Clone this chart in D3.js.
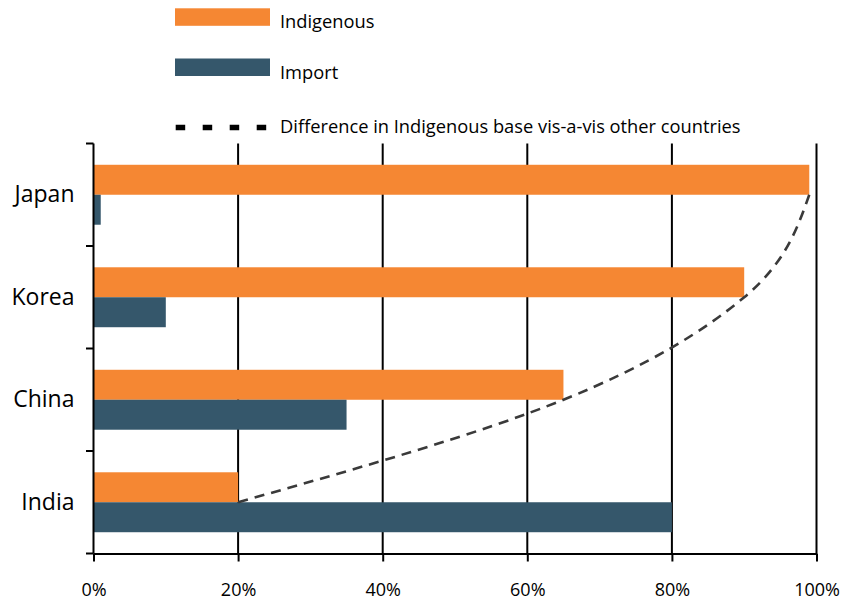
<!DOCTYPE html>
<html>
<head>
<meta charset="utf-8">
<script src="https://cdn.jsdelivr.net/npm/d3@7"></script>
<style>
  html, body { margin: 0; padding: 0; background: #fff; }
  svg { display: block; font-family: "Open Sans", "DejaVu Sans", sans-serif; }
</style>
</head>
<body>
<svg id="chart" width="842" height="603"></svg>
<script>
const categories = ["Japan", "Korea", "China", "India"];
const indigenous = [0.99, 0.90, 0.65, 0.20];
const importShare = [0.01, 0.10, 0.35, 0.80];
const xTicks = [0, 0.2, 0.4, 0.6, 0.8, 1.0];
const seriesNames = ["Indigenous", "Import"];
const lineName = "Difference in Indigenous base vis-a-vis other countries";

const colors = { Indigenous: "#F58733", Import: "#35576B", line: "#3a3a3a" };

const svg = d3.select("#chart");
const plotLeft = 93.5, plotRight = 816.5, plotTop = 143.5, plotBottom = 553.5;

const x = d3.scaleLinear().domain([0, 1]).range([plotLeft, plotRight]);
const y0 = d3.scaleBand().domain(categories).range([plotTop, plotBottom]);
const y1 = d3.scaleBand().domain(seriesNames).range([0, y0.bandwidth()]).paddingInner(0).paddingOuter(0.71);

const rows = categories.map((c, i) => ({ cat: c, Indigenous: indigenous[i], Import: importShare[i] }));

// gridlines
svg.append("g").selectAll("line").data(xTicks.filter(d => d > 0)).join("line")
  .attr("x1", d => x(d)).attr("x2", d => x(d))
  .attr("y1", plotTop).attr("y2", plotBottom)
  .attr("stroke", "#000").attr("stroke-width", 2);

// bars
const g = svg.append("g");
rows.forEach(r => {
  seriesNames.forEach(s => {
    g.append("rect")
      .attr("x", x(0))
      .attr("y", y0(r.cat) + y1(s))
      .attr("width", x(r[s]) - x(0))
      .attr("height", y1.bandwidth())
      .attr("fill", colors[s]);
  });
});

// dashed smooth line through indigenous bar ends
const linePts = rows.map(r => [x(r.Indigenous), y0(r.cat) + y1("Indigenous") + y1.bandwidth()]);
svg.append("path")
  .attr("d", d3.line().curve(d3.curveMonotoneY)(linePts))
  .attr("fill", "none").attr("stroke", colors.line)
  .attr("stroke-width", 2.6).attr("stroke-dasharray", "10,7");

// x axis
const xAxis = svg.append("g").attr("transform", `translate(0,${plotBottom})`)
  .call(d3.axisBottom(x).tickValues(xTicks).tickFormat(d3.format(".0%")).tickSizeInner(8).tickSizeOuter(0).tickPadding(22));
xAxis.select(".domain").attr("stroke", "#000").attr("stroke-width", 2);
xAxis.selectAll(".tick line").attr("stroke", "#000").attr("stroke-width", 2);
xAxis.selectAll(".tick text").attr("font-size", 18).attr("fill", "#000").attr("font-family", "Open Sans");

// y axis line with boundary ticks
svg.append("line").attr("x1", plotLeft).attr("x2", plotLeft).attr("y1", plotTop).attr("y2", plotBottom)
  .attr("stroke", "#000").attr("stroke-width", 2);
const bounds = categories.map(c => y0(c)).concat([plotBottom]);
svg.append("g").selectAll("line").data(bounds).join("line")
  .attr("x1", plotLeft - 7.5).attr("x2", plotLeft).attr("y1", d => d).attr("y2", d => d)
  .attr("stroke", "#000").attr("stroke-width", 2);

const yAxis = svg.append("g").attr("transform", `translate(${plotLeft - 19},0)`)
  .call(d3.axisLeft(y0).tickSize(0).tickPadding(0));
yAxis.select(".domain").remove();
yAxis.selectAll(".tick text").attr("font-size", 23).attr("fill", "#000").attr("font-family", "Open Sans");

// legend
const lg = svg.append("g");
lg.append("rect").attr("x", 175).attr("y", 8.3).attr("width", 95).attr("height", 17.5).attr("fill", colors.Indigenous);
lg.append("rect").attr("x", 175).attr("y", 58.5).attr("width", 95).attr("height", 17.5).attr("fill", colors.Import);
lg.append("line").attr("x1", 175.7).attr("x2", 267).attr("y1", 127.5).attr("y2", 127.5)
  .attr("stroke", "#000").attr("stroke-width", 5.5).attr("stroke-dasharray", "9.5,17.5");
const legendTexts = [[seriesNames[0], 20.5], [seriesNames[1], 71], [lineName, 125.5]];
lg.selectAll("text").data(legendTexts).join("text")
  .attr("x", 280).attr("y", d => d[1]).attr("dominant-baseline", "central")
  .attr("font-size", 18.3).attr("fill", "#000").text(d => d[0]);
</script>
</body>
</html>
